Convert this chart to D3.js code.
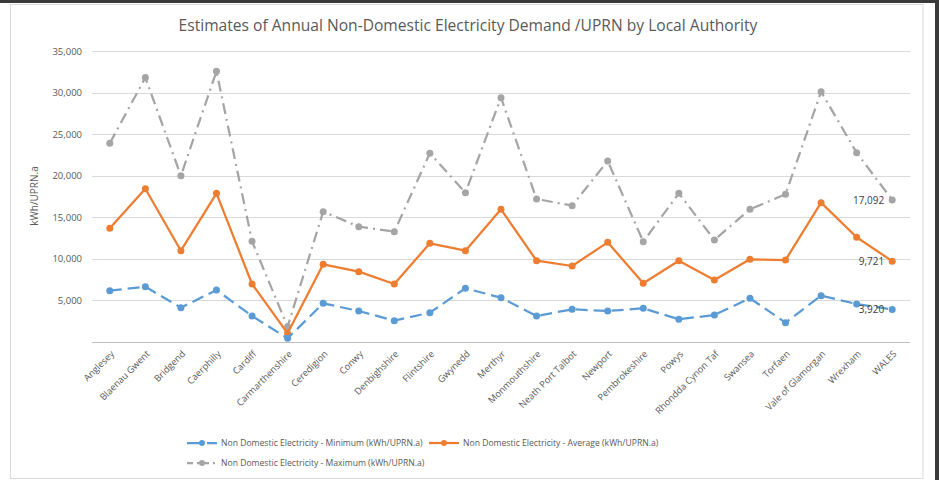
<!DOCTYPE html>
<html><head><meta charset="utf-8">
<script src="https://cdn.jsdelivr.net/npm/d3@7"></script>
<style>body{margin:0;background:#fff;} svg{display:block;font-family:"Open Sans",sans-serif;}</style>
</head><body><svg id="c" width="939" height="480"></svg>
<script>
const categories = ["Anglesey","Blaenau Gwent","Bridgend","Caerphilly","Cardiff","Carmarthenshire","Ceredigion","Conwy","Denbighshire","Flintshire","Gwynedd","Merthyr","Monmouthshire","Neath Port Talbot","Newport","Pembrokeshire","Powys","Rhondda Cynon Taf","Swansea","Torfaen","Vale of Glamorgan","Wrexham","WALES"];
const minimum = [6170,6650,4130,6250,3130,440,4650,3730,2570,3530,6460,5330,3130,3930,3730,4050,2730,3250,5260,2330,5570,4570,3920];
const average = [13680,18440,10980,17880,6980,1040,9340,8460,6980,11870,10980,15960,9780,9140,11990,7060,9780,7460,9950,9860,16760,12600,9721];
const maximum = [23900,31800,20000,32560,12110,1840,15680,13870,13270,22700,17960,29390,17200,16400,21770,12070,17880,12270,15960,17760,30100,22770,17092];
const yTicks = [5000,10000,15000,20000,25000,30000,35000];
const seriesNames = ["Non Domestic Electricity - Minimum (kWh/UPRN.a)","Non Domestic Electricity - Average (kWh/UPRN.a)","Non Domestic Electricity - Maximum (kWh/UPRN.a)"];
const title = "Estimates of Annual Non-Domestic Electricity Demand /UPRN by Local Authority";

const svg = d3.select("#c");
// outer frame
svg.append("rect").attr("x",0).attr("y",0).attr("width",939).attr("height",3).attr("fill","#3a3a3a");
svg.append("rect").attr("x",935).attr("y",0).attr("width",4).attr("height",480).attr("fill","#3a3a3a");
svg.append("rect").attr("x",10.5).attr("y",4.5).attr("width",912.5).attr("height",474).attr("fill","none").attr("stroke","#d9d9d9");

const x = d3.scaleBand().domain(categories).range([92,910]);
const y = d3.scaleLinear().domain([0,35000]).range([342,51]);
const cx = d => x(d) + x.bandwidth()/2;

svg.append("text").attr("x",468).attr("y",31).attr("text-anchor","middle")
  .attr("font-size",15.6).attr("fill","#595959").text(title);

// gridlines
svg.append("g").selectAll("line").data(yTicks).join("line")
  .attr("x1",92).attr("x2",910).attr("y1",d=>Math.round(y(d))+0.5).attr("y2",d=>Math.round(y(d))+0.5)
  .attr("stroke","#d9d9d9").attr("stroke-width",1);

const yAxis = svg.append("g").attr("transform","translate(92,0)")
  .call(d3.axisLeft(y).tickValues(yTicks).tickSize(0).tickPadding(10).tickFormat(d3.format(",")));
yAxis.select(".domain").remove();
yAxis.selectAll("text").attr("font-size",9.5).attr("fill","#595959").attr("font-family","Open Sans");

const xAxis = svg.append("g").attr("transform","translate(0,342.5)")
  .call(d3.axisBottom(x).tickSize(0).tickPadding(0));
xAxis.select(".domain").attr("stroke","#bfbfbf").attr("d","M92,0H910");
xAxis.selectAll("text").attr("font-size",9.3).attr("fill","#595959").attr("font-family","Open Sans")
  .attr("text-anchor","end").attr("dy",null).attr("y",0)
  .attr("transform","translate(5,12) rotate(-45)");

svg.append("text").attr("transform","translate(38,196) rotate(-90)").attr("text-anchor","middle")
  .attr("font-size",10).attr("fill","#595959").text("kWh/UPRN.a");

const series = [
  {name:seriesNames[0], values:minimum, color:"#5b9bd5", dash:"12,6"},
  {name:seriesNames[1], values:average, color:"#ed7d31", dash:null},
  {name:seriesNames[2], values:maximum, color:"#a5a5a5", dash:"11,5,2,5"}
];
const line = d3.line().x((d,i)=>cx(categories[i])).y(d=>y(d));
const drawOrder = [2,1,0];
drawOrder.forEach(k=>{
  const s = series[k];
  const g = svg.append("g");
  g.append("path").attr("d",line(s.values)).attr("fill","none").attr("stroke",s.color)
    .attr("stroke-width",2.25).attr("stroke-dasharray",s.dash).attr("stroke-linejoin","round");
  g.selectAll("circle").data(s.values).join("circle")
    .attr("cx",(d,i)=>cx(categories[i])).attr("cy",d=>y(d)).attr("r",3.5).attr("fill",s.color);
});

// data labels on WALES
const last = categories.length-1;
series.forEach(s=>{
  svg.append("text").attr("x",cx(categories[last])-8).attr("y",y(s.values[last])+4)
    .attr("text-anchor","end").attr("font-size",10).attr("fill","#404040")
    .text(d3.format(",")(s.values[last]));
});

// legend
const leg = [
  {s:series[0], x:187, y:443},
  {s:series[1], x:429, y:443},
  {s:series[2], x:187, y:463}
];
leg.forEach(l=>{
  const g = svg.append("g").attr("transform",`translate(${l.x},${l.y})`);
  g.append("line").attr("x1",0).attr("x2",30).attr("y1",0).attr("y2",0).attr("stroke",l.s.color)
    .attr("stroke-width",2.25).attr("stroke-dasharray",l.s.dash ? (l.s===series[0]?"16,4":"6,4,2,4") : null);
  g.append("circle").attr("cx",15).attr("cy",0).attr("r",3).attr("fill",l.s.color);
  g.append("text").attr("x",34).attr("y",3.3).attr("font-size",8.6).attr("fill","#595959").text(l.s.name);
});
</script></body></html>
